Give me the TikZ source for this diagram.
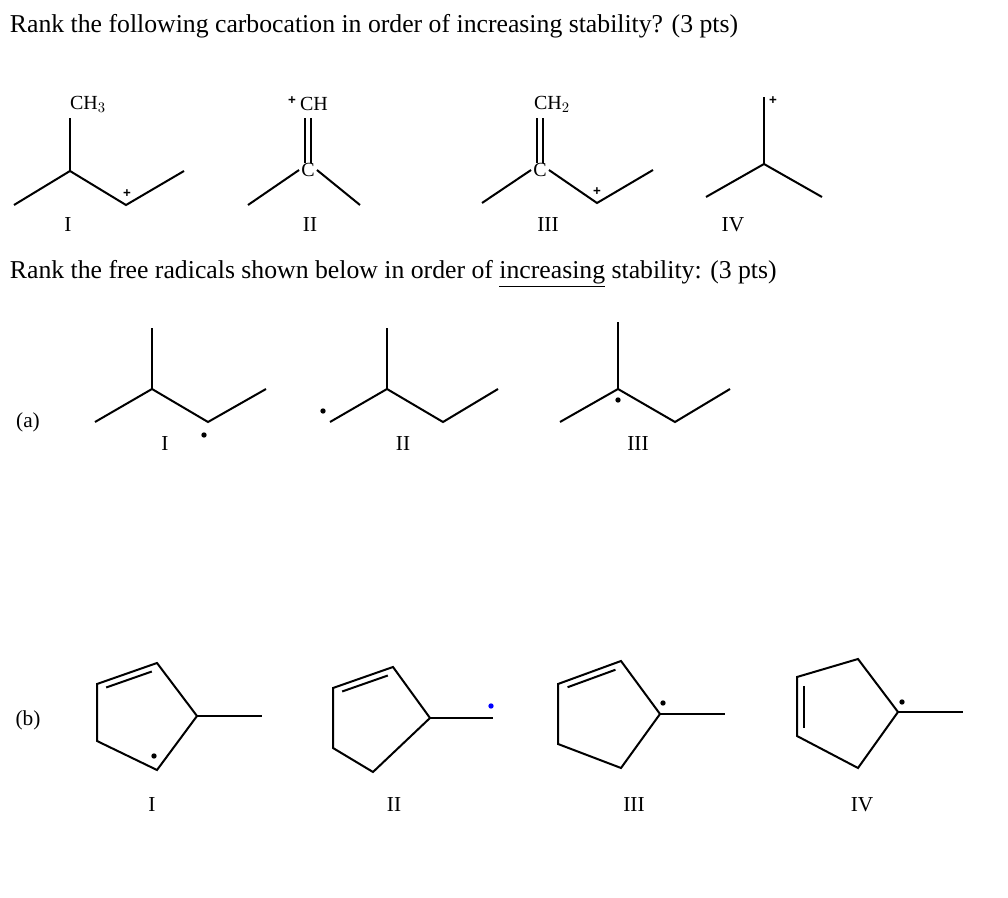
\documentclass[tikz,border=0pt]{standalone}
\usepackage{fontspec}
\setmainfont{Liberation Serif}
\setsansfont{Liberation Sans}
\usetikzlibrary{calc}
\begin{document}
\begin{tikzpicture}[x=0.75pt,y=-0.75pt,line width=1.4pt,
  bond/.style={line width=1.5pt},
  lbl/.style={font=\fontsize{16}{18}\selectfont,inner sep=0pt},
  ttl/.style={font=\fontsize{19.3}{22}\selectfont,inner sep=0pt,anchor=west},
  plus/.style={font=\sffamily\bfseries\fontsize{10}{10}\selectfont,inner sep=0pt},
  rad/.style={circle,fill=black,inner sep=0pt,minimum size=4pt},
  atm/.style={font=\fontsize{15}{18}\selectfont,inner sep=1pt}]
\useasboundingbox (0,0) rectangle (1008,898);
\node[ttl] (t1) at (9,26) {Rank the following carbocation in order of increasing stability? (3 pts)};
\node[ttl] (t2) at (9,274) {Rank the free radicals shown below in order of \underline{increasing} stability: (3 pts)};
% I
\coordinate (a1) at (14,205); \coordinate (a2) at (70,171); \coordinate (a3) at (126,205); \coordinate (a4) at (184,171);
\node[atm] (ch3) at (88,104) {CH$_3$};
\draw[bond] (a1)--(a2)--(a3)--(a4); \draw[bond] (a2)--(70,118);
\node[plus] (p1) at (127,194) {+};
\node[lbl] (l1) at (68,225) {I};
% II
\node[atm] (c2) at (308,170) {C};
\node[atm] (ch2) at (314,104) {CH};
\node[plus] (p2) at (292,101) {+};
\draw[bond] (248,205)--(c2.west); \draw[bond] (c2.east)--(360,205);
\draw[bond] (305,163)--(305,118); \draw[bond] (311,163)--(311,118);
\node[lbl] (l2) at (310,225) {II};
% III
\node[atm] (c3) at (540,170) {C};
\node[atm] (ch2b) at (552,104) {CH$_2$};
\coordinate (b3) at (597,203); \coordinate (b4) at (653,170);
\draw[bond] (482,203)--(c3.west); \draw[bond] (c3.east)--(b3)--(b4);
\draw[bond] (537,163)--(537,118); \draw[bond] (543,163)--(543,118);
\node[plus] (p3) at (597,192) {+};
\node[lbl] (l3) at (548,225) {III};
% IV
\coordinate (d0) at (764,164);
\draw[bond] (706,197)--(d0)--(822,197); \draw[bond] (d0)--(764,97);
\node[plus] (p4) at (773,101) {+};
\node[lbl] (l4) at (733,225) {IV};
% (a)
\node[lbl] (la) at (28,422) {(a)};
\draw[bond] (95,422)--(152,389)--(208,422)--(266,389); \draw[bond] (152,389)--(152,328);
\node[rad] (r1) at (204,435) {};
\node[lbl] (la1) at (165,444) {I};
\draw[bond] (330,422)--(387,389)--(443,422)--(498,389); \draw[bond] (387,389)--(387,328);
\node[rad] (r2) at (323,411) {};
\node[lbl] (la2) at (403,444) {II};
\draw[bond] (560,422)--(618,389)--(675,422)--(730,389); \draw[bond] (618,389)--(618,322);
\node[rad] (r3) at (618,400) {};
\node[lbl] (la3) at (638,444) {III};
% (b)
\node[lbl] (lb) at (28,720) {(b)};
% ring I
\draw[bond] (97,684)--(157,663)--(197,716)--(157,770)--(97,741)--cycle; \draw[bond] (197,716)--(262,716);
\draw[bond] ($(97,684)!0.12!(157,663)+(2,6)$)--($(97,684)!0.88!(157,663)+(2,6)$);
\node[rad] (rb1) at (154,756) {};
\node[lbl] (lb1) at (152,805) {I};
% ring II
\draw[bond] (333,688)--(393,667)--(430,718)--(373,772)--(333,748)--cycle; \draw[bond] (430,718)--(493,718);
\draw[bond] ($(333,688)!0.12!(393,667)+(2,6)$)--($(333,688)!0.88!(393,667)+(2,6)$);
\node[rad,fill=blue] (rb2) at (491,706) {};
\node[lbl] (lb2) at (394,805) {II};
% ring III
\draw[bond] (558,684)--(621,661)--(660,714)--(621,768)--(558,744)--cycle; \draw[bond] (660,714)--(725,714);
\draw[bond] ($(558,684)!0.12!(621,661)+(2,6)$)--($(558,684)!0.88!(621,661)+(2,6)$);
\node[rad] (rb3) at (663,703) {};
\node[lbl] (lb3) at (634,805) {III};
% ring IV
\draw[bond] (797,677)--(858,659)--(898,712)--(858,768)--(797,736)--cycle; \draw[bond] (898,712)--(963,712);
\draw[bond] (804,686)--(804,728);
\node[rad] (rb4) at (902,702) {};
\node[lbl] (lb4) at (862,805) {IV};
\end{tikzpicture}
\end{document}
